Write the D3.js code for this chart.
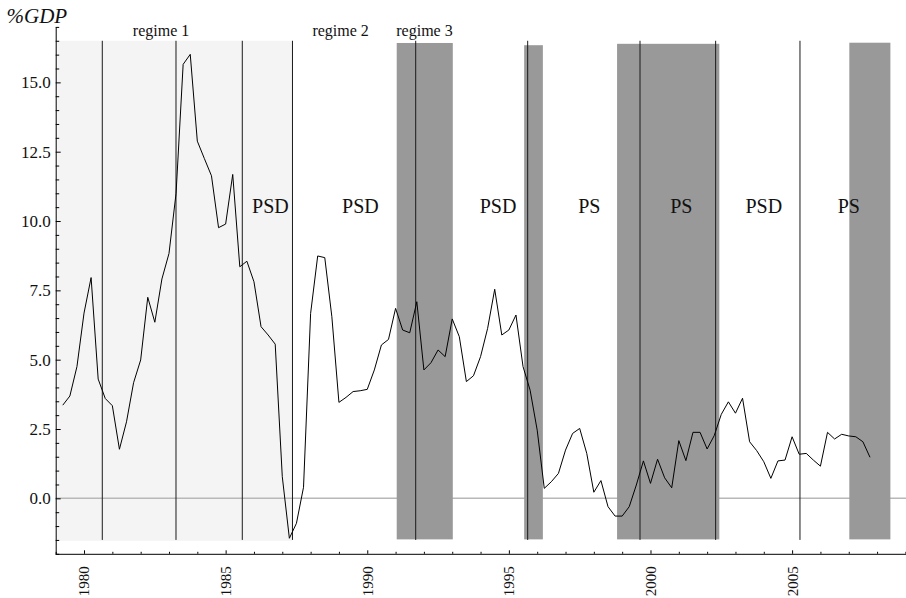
<!DOCTYPE html>
<html>
<head>
<meta charset="utf-8">
<script src="https://cdn.jsdelivr.net/npm/d3@7"></script>
<style>
  html, body { margin: 0; padding: 0; background: #fff; }
  svg text { font-family: "Liberation Serif", "Times New Roman", serif; fill: #111; }
</style>
</head>
<body>
<svg id="chart" width="906" height="598"></svg>
<script>
// ---- data ----
const startYear = 1979.25;      // first quarterly observation
const quarterStep = 0.25;
const values = [3.36, 3.69, 4.75, 6.68, 7.96, 4.30, 3.60, 3.34, 1.77, 2.76,
  4.17, 4.99, 7.25, 6.35, 7.91, 8.83, 11.0, 15.65, 16.01, 12.88,
  12.25, 11.63, 9.76, 9.89, 11.68, 8.35, 8.55, 7.81, 6.19, 5.89,
  5.56, 0.78, -1.44, -0.90, 0.40, 6.67, 8.74, 8.68, 6.55, 3.46,
  3.64, 3.85, 3.88, 3.93, 4.63, 5.53, 5.73, 6.85, 6.07, 5.97,
  7.09, 4.63, 4.89, 5.35, 5.11, 6.47, 5.83, 4.21, 4.42, 5.11,
  6.13, 7.54, 5.89, 6.07, 6.61, 4.75, 3.90, 2.46, 0.36, 0.60,
  0.90, 1.74, 2.34, 2.52, 1.62, 0.22, 0.64, -0.30, -0.64, -0.64,
  -0.30, 0.48, 1.35, 0.54, 1.41, 0.74, 0.38, 2.08, 1.36, 2.38,
  2.38, 1.78, 2.26, 3.03, 3.48, 3.07, 3.61, 2.04, 1.72, 1.32,
  0.72, 1.35, 1.38, 2.22, 1.59, 1.62, 1.38, 1.16, 2.38, 2.14,
  2.31, 2.25, 2.22, 2.04, 1.48];

const lightRegion = [1979.06, 1987.35];
const darkBands = [[1991.04, 1993.02, 16.42], [1995.54, 1996.20, 16.34],
                   [1998.82, 2002.43, 16.39], [2007.02, 2008.47, 16.43]];
const breakLines = [1980.645, 1983.247, 1985.588, 1987.36, 1991.71,
                    1995.664, 1999.63, 2002.30, 2005.278];
const regimeLabels = ["regime 1", "regime 2", "regime 3"];
const regimeYears = [1982.72, 1989.06, 1992.02];
const partyLabels = ["PSD", "PSD", "PSD", "PS", "PS", "PSD", "PS"];
const partyYears = [1986.58, 1989.76, 1994.62, 1997.84, 2001.09, 2004.0, 2007.0];
const xMajorTicks = [1980, 1985, 1990, 1995, 2000, 2005];
const yMajorTicks = [0, 2.5, 5, 7.5, 10, 12.5, 15];

// ---- scales ----
const svg = d3.select("#chart");
const x = d3.scaleLinear().domain([1979, 2009]).range([55.7, 905.4]);
const y = d3.scaleLinear().domain([-2, 17]).range([553.8, 26.9]);
const bandBottom = -1.48;
const bandTopLight = 16.5;

const series = values.map((v, i) => ({ t: startYear + i * quarterStep, v }));

// light region
svg.append("rect")
  .attr("x", x(lightRegion[0])).attr("width", x(lightRegion[1]) - x(lightRegion[0]))
  .attr("y", y(bandTopLight)).attr("height", y(-1.53) - y(bandTopLight))
  .attr("fill", "#f4f4f4");

// zero line
svg.append("line")
  .attr("x1", x(1979)).attr("x2", 906)
  .attr("y1", y(0)).attr("y2", y(0))
  .attr("stroke", "#b8b8b8").attr("stroke-width", 1.5);

// dark bands
svg.selectAll("rect.band").data(darkBands).enter().append("rect")
  .attr("class", "band")
  .attr("x", d => x(d[0])).attr("width", d => x(d[1]) - x(d[0]))
  .attr("y", d => y(d[2])).attr("height", d => y(bandBottom) - y(d[2]))
  .attr("fill", "#999999");

// vertical break lines
svg.selectAll("line.brk").data(breakLines).enter().append("line")
  .attr("class", "brk")
  .attr("x1", d => x(d)).attr("x2", d => x(d))
  .attr("y1", y(16.5)).attr("y2", y(-1.5))
  .attr("stroke", "#1a1a1a").attr("stroke-width", 1);

// data line
svg.append("path")
  .datum(series)
  .attr("fill", "none").attr("stroke", "#000").attr("stroke-width", 1)
  .attr("stroke-linejoin", "miter")
  .attr("d", d3.line().x(d => x(d.t)).y(d => y(d.v)));

// axes
const yMinor = d3.range(-2, 17.01, 0.5).filter(v => !yMajorTicks.includes(v));
const xMinor = d3.range(1979, 2010, 1).filter(v => !xMajorTicks.includes(v));

const yAxisMinor = svg.append("g").attr("transform", `translate(${x(1979)},0)`)
  .call(d3.axisLeft(y).tickValues(yMinor).tickSize(-3.5).tickSizeOuter(0).tickFormat(""));
yAxisMinor.select(".domain").remove();
const yAxis = svg.append("g").attr("transform", `translate(${x(1979)},0)`)
  .call(d3.axisLeft(y).tickValues(yMajorTicks).tickSize(-5).tickSizeOuter(0)
    .tickPadding(5).tickFormat(d3.format(".1f")));
yAxis.selectAll("text").style("font-size", "17px")
  .style("font-family", "'Liberation Serif', 'Times New Roman', serif").attr("fill", "#111");

const xAxisMinor = svg.append("g").attr("transform", `translate(0,${y(-2)})`)
  .call(d3.axisBottom(x).tickValues(xMinor).tickSize(-2).tickSizeOuter(0).tickFormat(""));
xAxisMinor.select(".domain").remove();
const xAxis = svg.append("g").attr("transform", `translate(0,${y(-2)})`)
  .call(d3.axisBottom(x).tickValues(xMajorTicks).tickSize(-3.5).tickSizeOuter(0).tickFormat(d3.format("d")));
xAxis.select(".domain").attr("d", `M${x(1979)},0.5H906`);
xAxis.selectAll("text")
  .attr("transform", "rotate(-90)")
  .attr("x", -12.5).attr("y", 0).attr("dy", "0.33em")
  .style("text-anchor", "end")
  .style("font-size", "15px")
  .style("font-family", "'Liberation Serif', 'Times New Roman', serif").attr("fill", "#111");
svg.selectAll(".tick line").attr("stroke", "#000");
svg.selectAll(".domain").attr("stroke", "#000");

// axis label
svg.append("text").attr("x", 6.5).attr("y", 23)
  .style("font-size", "21px").style("font-style", "italic")
  .text("%GDP");

// regime labels
svg.selectAll("text.reg").data(regimeLabels).enter().append("text")
  .attr("class", "reg")
  .attr("x", (d, i) => x(regimeYears[i])).attr("y", y(16.67))
  .attr("text-anchor", "middle").style("font-size", "16px")
  .text(d => d);

// party labels
svg.selectAll("text.party").data(partyLabels).enter().append("text")
  .attr("class", "party")
  .attr("x", (d, i) => x(partyYears[i])).attr("y", y(10.3))
  .attr("text-anchor", "middle").style("font-size", "20px")
  .text(d => d);
</script>
</body>
</html>
